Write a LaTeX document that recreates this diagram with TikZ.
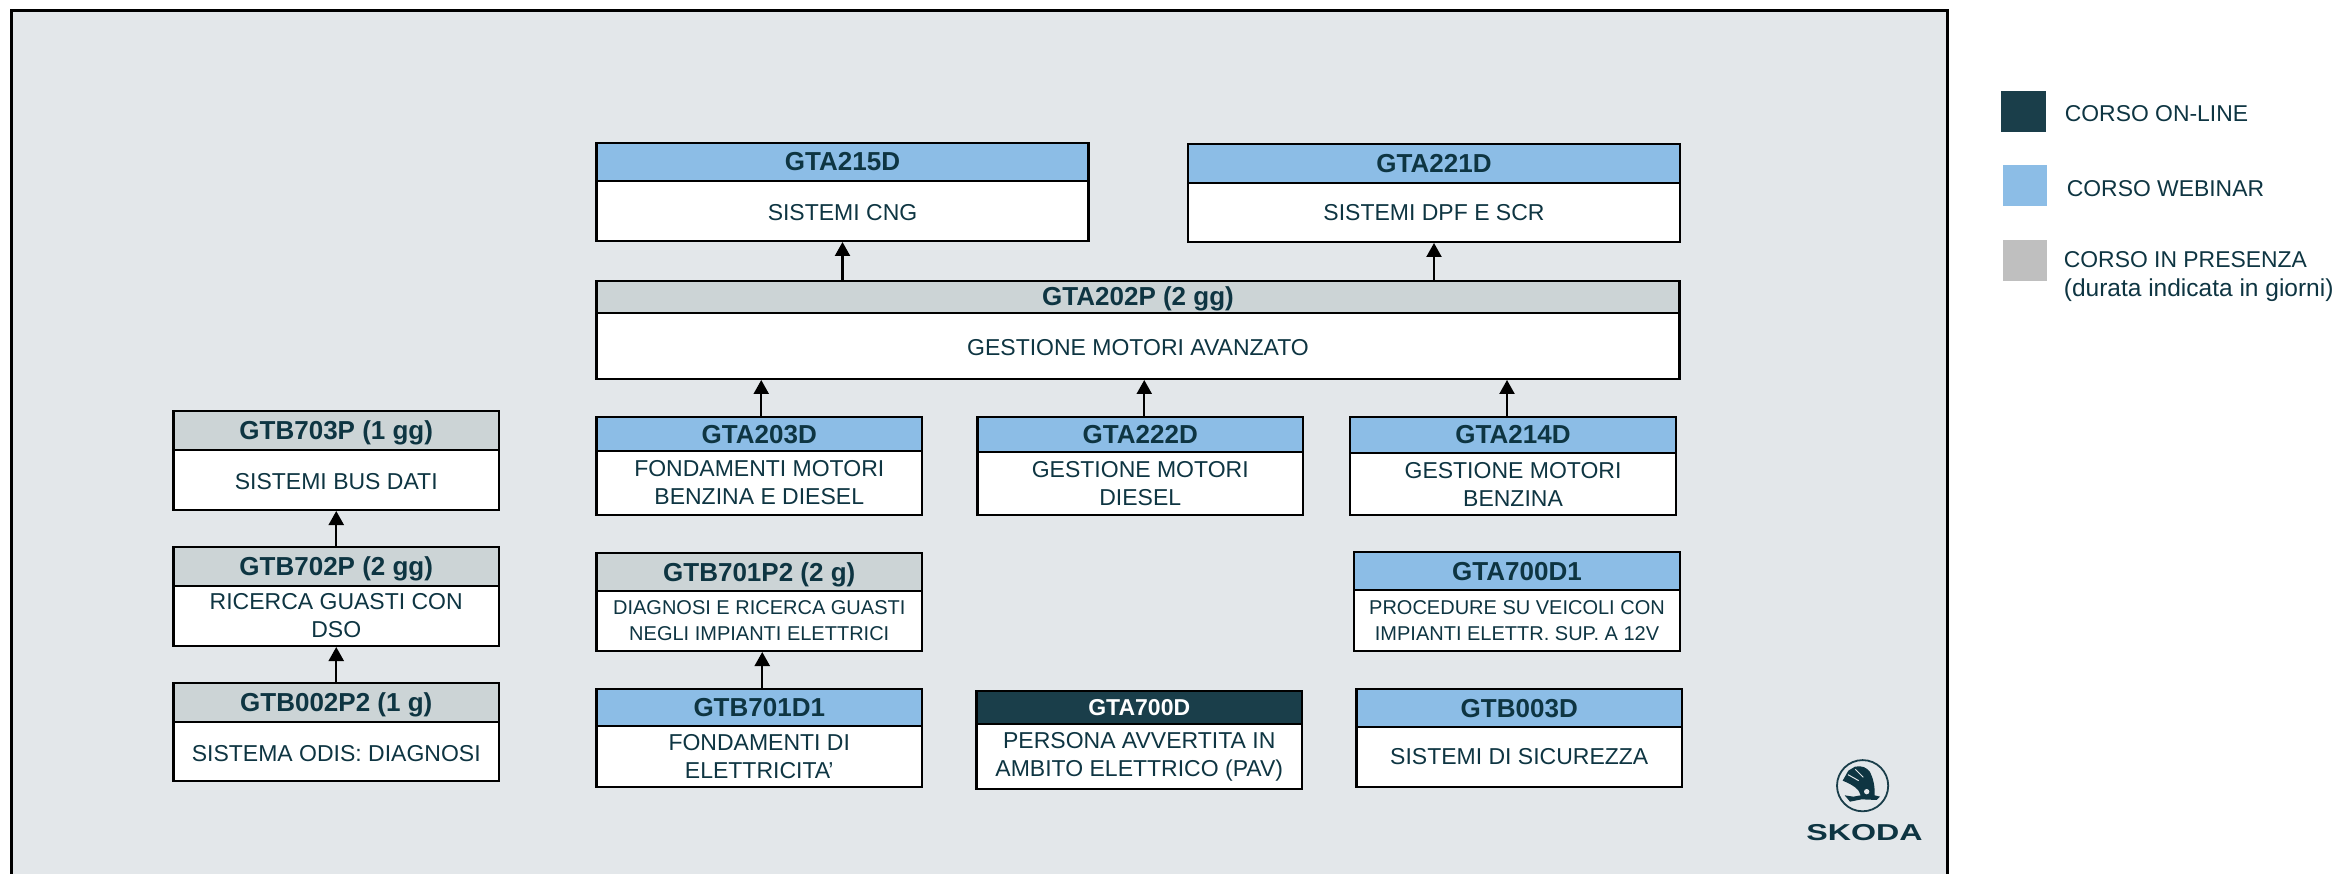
\documentclass[tikz,border=0pt]{standalone}
\usepackage{fontspec}
\setmainfont{Liberation Sans}
\usepackage{tikz}
\usetikzlibrary{arrows.meta}

\definecolor{sfondo}{HTML}{E3E7EA}
\definecolor{webinar}{HTML}{8CBDE6}
\definecolor{presenza}{HTML}{CCD4D6}
\definecolor{online}{HTML}{1A3E4A}
\definecolor{grigio}{HTML}{BFBFBF}
\definecolor{testo}{HTML}{0E3542}

\begin{document}
\begin{tikzpicture}[x=1pt, y=-1pt, line width=2.7pt,
  testa/.style={draw=black, anchor=north west, inner sep=0pt, outer sep=0pt, text=testo, text height=18pt, text depth=0pt, font=\fontsize{26}{29}\selectfont\bfseries},
  corpo/.style={draw=black, fill=white, anchor=north west, inner sep=0pt, outer sep=0pt, align=center, text=testo, font=\fontsize{23}{28}\selectfont},
  riga/.style={text height=20pt},
  piccolo/.style={font=\fontsize{20}{26}\selectfont},
  freccia/.style={-{Triangle[width=15pt,length=14pt]}, line width=2.2pt, shorten >=1pt},
  tassello/.style={anchor=north west, inner sep=0pt, outer sep=0pt, minimum width=44pt, minimum height=41pt},
  voce/.style={anchor=base west, inner sep=0pt, text=testo, font=\fontsize{22.9}{29}\selectfont}]
\useasboundingbox (0,0) rectangle (2338,874);
\fill[sfondo] (11.7,10.7) rectangle (1947,874);
\draw[black, line width=3pt] (11.7,874) -- (11.7,10.7) -- (1947,10.7) -- (1947,874);

% top row
\node[testa, fill=webinar, minimum width=492pt, minimum height=38pt] (gta215h) at (596.5,143) {GTA215D};
\node[corpo, riga, minimum width=492pt, minimum height=60pt] (gta215b) at (596.5,181) {SISTEMI CNG};
\node[testa, fill=webinar, minimum width=492pt, minimum height=39pt] (gta221h) at (1188,144) {GTA221D};
\node[corpo, minimum width=492pt, minimum height=59pt] (gta221b) at (1188,183) {SISTEMI DPF E SCR};
\node[testa, fill=presenza, minimum width=1083pt, minimum height=32pt] (gta202h) at (596.5,281) {GTA202P (2 gg)};
\node[corpo, riga, minimum width=1083pt, minimum height=66pt] (gta202b) at (596.5,313) {GESTIONE MOTORI AVANZATO};

% engine courses
\node[testa, fill=webinar, minimum width=325.5pt, minimum height=34pt] (gta203h) at (596.5,417) {GTA203D};
\node[corpo, minimum width=325.5pt, minimum height=64pt] (gta203b) at (596.5,451) {FONDAMENTI MOTORI\\BENZINA E DIESEL};
\node[testa, fill=webinar, minimum width=325.5pt, minimum height=35pt] (gta222h) at (977.5,417) {GTA222D};
\node[corpo, minimum width=325.5pt, minimum height=63pt] (gta222b) at (977.5,452) {GESTIONE MOTORI\\DIESEL};
\node[testa, fill=webinar, minimum width=326pt, minimum height=36pt] (gta214h) at (1350,417) {GTA214D};
\node[corpo, minimum width=326pt, minimum height=62pt] (gta214b) at (1350,453) {GESTIONE MOTORI\\BENZINA};

% left column
\node[testa, fill=presenza, minimum width=325.5pt, minimum height=39pt] (gtb703h) at (173.5,411) {GTB703P (1 gg)};
\node[corpo, riga, minimum width=325.5pt, minimum height=60pt] (gtb703b) at (173.5,450) {SISTEMI BUS DATI};
\node[testa, fill=presenza, minimum width=325.5pt, minimum height=39pt] (gtb702h) at (173.5,547) {GTB702P (2 gg)};
\node[corpo, minimum width=325.5pt, minimum height=60pt] (gtb702b) at (173.5,586) {RICERCA GUASTI CON\\DSO};
\node[testa, fill=presenza, minimum width=325.5pt, minimum height=39pt] (gtb002h) at (173.5,683) {GTB002P2 (1 g)};
\node[corpo, riga, minimum width=325.5pt, minimum height=59pt] (gtb002b) at (173.5,722) {SISTEMA ODIS: DIAGNOSI};

% electrical courses
\node[testa, fill=presenza, minimum width=325.5pt, minimum height=38pt] (gtb701ph) at (596.5,553) {GTB701P2 (2 g)};
\node[corpo, piccolo, minimum width=325.5pt, minimum height=60pt] (gtb701pb) at (596.5,591) {DIAGNOSI E RICERCA GUASTI\\NEGLI IMPIANTI ELETTRICI};
\node[testa, fill=webinar, minimum width=325.5pt, minimum height=37pt] (gtb701dh) at (596.5,689) {GTB701D1};
\node[corpo, minimum width=325.5pt, minimum height=61pt] (gtb701db) at (596.5,726) {FONDAMENTI DI\\ELETTRICITA’};
\node[testa, fill=webinar, minimum width=326pt, minimum height=38pt] (gta700dh) at (1354,552) {GTA700D1};
\node[corpo, piccolo, minimum width=326pt, minimum height=61pt] (gta700db) at (1354,590) {PROCEDURE SU VEICOLI CON\\IMPIANTI ELETTR. SUP. A 12V};
\node[testa, fill=online, text=white, font=\fontsize{23}{27}\selectfont\bfseries, text height=16.5pt, minimum width=325.5pt, minimum height=33pt] (gta700h) at (976.5,691) {GTA700D};
\node[corpo, minimum width=325.5pt, minimum height=65pt] (gta700b) at (976.5,724) {PERSONA AVVERTITA IN\\AMBITO ELETTRICO (PAV)};
\node[testa, fill=webinar, minimum width=325.5pt, minimum height=38pt] (gtb003h) at (1356.5,689) {GTB003D};
\node[corpo, minimum width=325.5pt, minimum height=60pt] (gtb003b) at (1356.5,727) {SISTEMI DI SICUREZZA};

% arrows
\draw[freccia] (gta215b.south |- gta202h.north) -- (gta215b.south);
\draw[freccia] (gta221b.south |- gta202h.north) -- (gta221b.south);
\draw[freccia] ([xshift=2pt]gta203h.north) -- ([xshift=2pt]gta203h.north |- gta202b.south);
\draw[freccia] ([xshift=4pt]gta222h.north) -- ([xshift=4pt]gta222h.north |- gta202b.south);
\draw[freccia] ([xshift=-6pt]gta214h.north) -- ([xshift=-6pt]gta214h.north |- gta202b.south);
\draw[freccia] (gtb702h.north) -- (gtb703b.south);
\draw[freccia] (gtb002h.north) -- (gtb702b.south);
\draw[freccia] ([xshift=3pt]gtb701dh.north) -- ([xshift=3pt]gtb701pb.south);

% legend
\node[tassello, fill=online, minimum width=45pt] (online) at (2001,91) {};
\node[tassello, fill=webinar] (webinar) at (2003,165) {};
\node[tassello, fill=grigio] (presenza) at (2003,240) {};
\node[voce] (voceonline) at (2063.5,121.5) {CORSO ON-LINE};
\node[voce] (vocewebinar) at (2065.5,197) {CORSO WEBINAR};
\node[voce] (vocepresenza) at (2062.5,268) {CORSO IN PRESENZA};
\node[voce, font=\fontsize{24.5}{29}\selectfont] (vocedurata) at (2062.5,297) {(durata indicata in giorni)};

% logo
\draw[online, line width=1.8pt] (1862.6,785.7) circle (25.6);
\begin{scope}[shift={(1820,750)}, x=.3333pt, y=-.3333pt]
\fill[testo] (68,92) -- (85,62) -- (105,50) .. controls (125,46) and (140,52) .. (150,66) .. controls (160,85) and (165,110) .. (164,136) -- (180,140) -- (170,150) -- (125,148) -- (90,155) -- (74,136) -- (100,140) -- (122,136) .. controls (118,118) and (100,105) .. (68,92) -- cycle;
\draw[sfondo, line width=1pt] (84,74) -- (116,92);
\draw[sfondo, line width=1pt] (106,58) -- (130,82);
\fill[sfondo] (140,125) circle (8);
\end{scope}
\node[inner sep=0pt, text=testo, xscale=1.4, font=\fontsize{23}{23}\selectfont\bfseries] (marchio) at (1864.5,832.5) {SKODA};
\end{tikzpicture}
\end{document}
